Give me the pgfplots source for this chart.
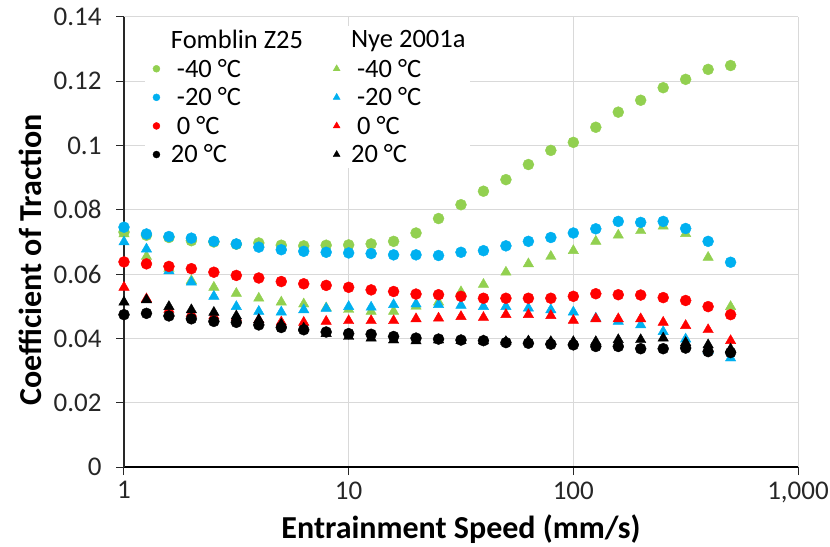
\documentclass[border=0pt]{standalone}
\usepackage{fontspec}
\setmainfont{Carlito}
\usepackage{pgfplots}
\pgfplotsset{compat=1.18}
\usepackage{pgfplotstable}
\definecolor{cgreen}{RGB}{146,208,80}
\definecolor{cblue}{RGB}{0,176,240}
\definecolor{cred}{RGB}{255,0,0}
\definecolor{gridc}{RGB}{217,217,217}
\definecolor{axc}{RGB}{40,40,40}

\pgfplotstableread{
x GC GT BC BT RC RT KC KT
1 0.0731 0.0725 0.0746 0.0700 0.0638 0.0559 0.0474 0.0513
1.259 0.0721 0.0655 0.0725 0.0678 0.0632 0.0523 0.0478 0.0520
1.585 0.0714 0.0618 0.0717 0.0610 0.0624 0.0490 0.0470 0.0499
1.995 0.0704 0.0580 0.0712 0.0575 0.0617 0.0478 0.0461 0.0489
2.512 0.0700 0.0559 0.0702 0.0531 0.0606 0.0470 0.0453 0.0481
3.162 0.0693 0.0540 0.0694 0.0499 0.0596 0.0465 0.0450 0.0470
3.981 0.0697 0.0525 0.0684 0.0484 0.0588 0.0458 0.0442 0.0458
5.012 0.0690 0.0513 0.0676 0.0482 0.0577 0.0451 0.0434 0.0444
6.310 0.0688 0.0507 0.0671 0.0489 0.0570 0.0450 0.0427 0.0432
7.943 0.0690 0.0495 0.0668 0.0493 0.0565 0.0453 0.0420 0.0415
10 0.0691 0.0490 0.0666 0.0499 0.0559 0.0455 0.0415 0.0406
12.59 0.0694 0.0484 0.0664 0.0497 0.0551 0.0455 0.0413 0.0401
15.85 0.0702 0.0484 0.0660 0.0505 0.0546 0.0455 0.0406 0.0395
19.95 0.0728 0.0500 0.0660 0.0507 0.0538 0.0461 0.0401 0.0392
25.12 0.0773 0.0513 0.0658 0.0505 0.0536 0.0463 0.0398 0.0395
31.62 0.0816 0.0545 0.0668 0.0503 0.0531 0.0468 0.0395 0.0393
39.81 0.0858 0.0568 0.0673 0.0499 0.0525 0.0465 0.0393 0.0392
50.12 0.0894 0.0606 0.0688 0.0499 0.0525 0.0474 0.0387 0.0390
63.10 0.0941 0.0632 0.0702 0.0494 0.0525 0.0474 0.0385 0.0392
79.43 0.0985 0.0655 0.0714 0.0489 0.0525 0.0471 0.0382 0.0390
100 0.1010 0.0673 0.0728 0.0482 0.0531 0.0456 0.0380 0.0390
125.9 0.1057 0.0702 0.0741 0.0463 0.0539 0.0461 0.0375 0.0390
158.5 0.1104 0.0721 0.0764 0.0453 0.0536 0.0461 0.0375 0.0396
199.5 0.1141 0.0735 0.0761 0.0442 0.0535 0.0461 0.0368 0.0396
251.2 0.1180 0.0749 0.0764 0.0421 0.0527 0.0450 0.0368 0.0401
316.2 0.1206 0.0726 0.0742 0.0398 0.0518 0.0440 0.0370 0.0387
398.1 0.1237 0.0652 0.0702 0.0362 0.0499 0.0427 0.0359 0.0380
501.2 0.1249 0.0499 0.0637 0.0339 0.0474 0.0393 0.0356 0.0367
}\data

\begin{document}
\begin{tikzpicture}
\begin{axis}[
  scale only axis,
  width=674bp, height=450bp,
  xmode=log, xmin=1, xmax=1000,
  ymin=0, ymax=0.14,
  xtick={1,10,100,1000},
  xticklabels={1,10,100,{1,000}},
  xminorticks=false,
  ytick={0,0.02,0.04,0.06,0.08,0.1,0.12,0.14},
  yticklabels={0,0.02,0.04,0.06,0.08,0.1,0.12,0.14},
  grid=major,
  major grid style={gridc, line width=1bp},
  axis lines=left,
  x axis line style={-, black, line width=1.2bp},
  y axis line style={-, axc, line width=1.2bp},
  tick align=outside,
  major tick length=8bp,
  every tick/.style={axc, line width=1bp},
  tick label style={font=\fontsize{27bp}{32bp}\selectfont, text=black!85},
  yticklabel style={xshift=-11bp},
  xticklabel style={yshift=-3bp},
  label style={font=\fontsize{32bp}{38bp}\selectfont\bfseries},
  xlabel={Entrainment Speed (mm/s)},
  ylabel={Coefficient of Traction},
  xlabel style={at={([yshift=-71bp]rel axis cs:0.5,0)}, anchor=base},
  ylabel style={at={([xshift=-79bp]rel axis cs:0,0.46)}, anchor=south},
  clip=false,
  legend columns=2,
  legend cell align=left,
  legend style={at={(rel axis cs:0.013,0.998)}, anchor=north west,
    xshift=12bp, yshift=-8bp,
    draw=none, fill=white,
    font=\fontsize{26.5bp}{30bp}\selectfont,
    row sep=5bp,
    /tikz/every odd column/.append style={column sep=9bp},
    /tikz/every even column/.append style={column sep=23bp}},
]
\addplot[only marks, mark=*, mark size=5.5bp, color=cgreen, forget plot] table[x=x,y=GC]{\data};
\addplot[only marks, mark=triangle*, mark size=6bp, color=cgreen, forget plot] table[x=x,y=GT]{\data};
\addplot[only marks, mark=*, mark size=5.5bp, color=cblue, forget plot] table[x=x,y=BC]{\data};
\addplot[only marks, mark=triangle*, mark size=6bp, color=cblue, forget plot] table[x=x,y=BT]{\data};
\addplot[only marks, mark=*, mark size=5.5bp, color=cred, forget plot] table[x=x,y=RC]{\data};
\addplot[only marks, mark=triangle*, mark size=6bp, color=cred, forget plot] table[x=x,y=RT]{\data};
\addplot[only marks, mark=*, mark size=5.5bp, color=black, forget plot] table[x=x,y=KC]{\data};
\addplot[only marks, mark=triangle*, mark size=6bp, color=black, forget plot] table[x=x,y=KT]{\data};

\addlegendimage{empty legend}\addlegendentry{Fomblin Z25}
\addlegendimage{empty legend}\addlegendentry{Nye 2001a}
\addlegendimage{only marks, mark=*, mark size=3.5bp, color=cgreen}\addlegendentry{\ -40 °C}
\addlegendimage{only marks, mark=triangle*, mark size=4bp, color=cgreen}\addlegendentry{\ -40 °C}
\addlegendimage{only marks, mark=*, mark size=3.5bp, color=cblue}\addlegendentry{\ -20 °C}
\addlegendimage{only marks, mark=triangle*, mark size=4bp, color=cblue}\addlegendentry{\ -20 °C}
\addlegendimage{only marks, mark=*, mark size=3.5bp, color=cred}\addlegendentry{\ 0 °C}
\addlegendimage{only marks, mark=triangle*, mark size=4bp, color=cred}\addlegendentry{\ 0 °C}
\addlegendimage{only marks, mark=*, mark size=3.5bp, color=black}\addlegendentry{20 °C}
\addlegendimage{only marks, mark=triangle*, mark size=4bp, color=black}\addlegendentry{20 °C}
\coordinate (O) at (rel axis cs:0,0);
\end{axis}
\pgfresetboundingbox
\path[use as bounding box] ([shift={(-124bp,-80bp)}]O) rectangle ([shift={(706bp,467bp)}]O);
\end{tikzpicture}
\end{document}
